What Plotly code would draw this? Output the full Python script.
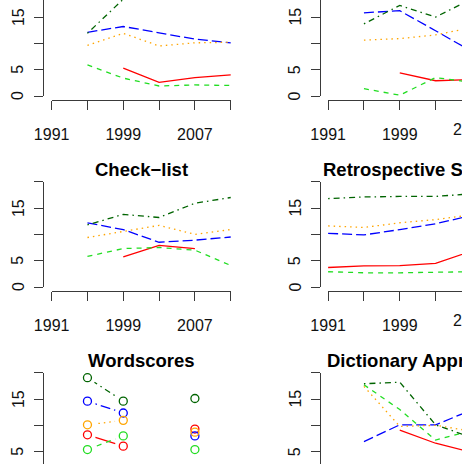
import plotly.graph_objects as go

# ---------------- data ----------------
years = [1991, 1995, 1999, 2003, 2007, 2011]
series_names = ["Red", "Green", "Blue", "Orange", "Dark green"]
colors = ["#FF0000", "#22DD22", "#0000FF", "#FFA500", "#006400"]
dashes = ["solid", "5px,5px", "10px,4px", "1.5px,4px", "1.5px,4px,6px,4px"]

xtick_vals = [1991, 1995, 1999, 2003, 2007, 2011]
xtick_text = ["1991", "", "1999", "", "2007", ""]
ytick_vals = [0, 5, 10, 15, 20]
ytick_text = ["0", "5", "", "15", ""]

panel_titles = ["", "", "Check\u2212list", "Retrospective Survey", "Wordscores", "Dictionary Approach"]

# panel 1 (top left)
p1_red = [None, None, 5.3, 2.6, 3.5, 4.0]
p1_green = [None, 5.9, 3.4, 1.9, 2.1, 2.0]
p1_blue = [None, 12.1, 13.2, 12.0, 10.8, 10.1]
p1_orange = [None, 9.6, 11.9, 9.5, 10.1, 10.2]
p1_darkgreen = [None, 11.9, 18.4, None, None, None]

# panel 2 (top right)
p2_red = [None, None, 4.4, 2.9, 3.1, None]
p2_green = [None, 1.4, 0.15, 3.5, 2.6, None]
p2_blue = [None, 15.8, 16.2, 12.4, 8.5, None]
p2_orange = [None, 10.6, 10.9, 11.6, 13.0, None]
p2_darkgreen = [None, 13.7, 17.2, 15.0, 18.4, None]

# Check-list
p3_red = [None, None, 5.7, 7.9, 7.3, None]
p3_green = [None, 5.8, 7.3, 7.5, 7.0, 4.1]
p3_blue = [None, 12.2, 10.9, 8.5, 8.9, 9.5]
p3_orange = [None, 9.4, 10.6, 11.7, 10.0, 10.9]
p3_darkgreen = [None, 11.8, 13.8, 13.2, 15.9, 17.0]

# Retrospective Survey
p4_red = [3.7, 4.0, 4.05, 4.5, 6.8, None]
p4_green = [2.9, 2.7, 2.7, 2.8, 2.9, None]
p4_blue = [10.2, 9.9, 10.9, 12.0, 13.6, None]
p4_orange = [11.6, 11.3, 12.2, 12.8, 13.7, None]
p4_darkgreen = [16.8, 17.1, 17.2, 17.2, 17.7, None]

# Wordscores
p5_red = [None, 8.2, 6.05, None, 9.3, None]
p5_green = [None, 5.4, 8.0, None, 5.4, None]
p5_blue = [None, 14.6, 12.35, None, 8.0, None]
p5_orange = [None, 10.1, 10.95, None, 8.7, None]
p5_darkgreen = [None, 19.05, 14.6, None, 15.1, None]

# Dictionary Approach
p6_red = [None, None, 9.1, 6.6, 4.9, None]
p6_green = [None, 17.7, 13.0, 7.2, 9.0, None]
p6_blue = [None, 6.9, 10.1, 10.1, 12.9, None]
p6_orange = [None, 17.4, 9.8, 10.0, 8.9, None]
p6_darkgreen = [None, 17.9, 18.2, 10.1, 7.7, None]

panels = [
    dict(row=0, col=0, kind="lines", data=[p1_red, p1_green, p1_blue, p1_orange, p1_darkgreen]),
    dict(row=0, col=1, kind="lines", data=[p2_red, p2_green, p2_blue, p2_orange, p2_darkgreen]),
    dict(row=1, col=0, kind="lines", data=[p3_red, p3_green, p3_blue, p3_orange, p3_darkgreen]),
    dict(row=1, col=1, kind="lines", data=[p4_red, p4_green, p4_blue, p4_orange, p4_darkgreen]),
    dict(row=2, col=0, kind="b", data=[p5_red, p5_green, p5_blue, p5_orange, p5_darkgreen]),
    dict(row=2, col=1, kind="lines", data=[p6_red, p6_green, p6_blue, p6_orange, p6_darkgreen]),
]

# ---------------- geometry (layout only) ----------------
W, H = 462, 464
XPY = 9.317            # px per year
X1991 = [35.0, 322.7]  # px position of 1991 tick per column
YPU = 5.265            # px per unit
Y0 = [96.0, 287.0, 478.0]  # px position of value 0 per row
X_LO, X_HI = 1990.2, 2011.8
Y_LO, Y_HI = -0.8, 20.8
YLAB_OFF = 27.5        # distance of y tick-label centre from the y axis line
FONT = "Liberation Sans, Arial, sans-serif"
AXCOL = "#3a3a3a"


def xpx(col, yr):
    return X1991[col] + (yr - 1991) * XPY


def ypx(row, v):
    return Y0[row] - v * YPU


def inv_x(col, px):
    return 1991 + (px - X1991[col]) / XPY


def inv_y(row, py):
    return (Y0[row] - py) / YPU


def key(letter, i):
    return f"{letter}axis" if i == 1 else f"{letter}axis{i}"


def ref(letter, i):
    return letter if i == 1 else f"{letter}{i}"


fig = go.Figure()
layout = {}
annotations = []
hidden = dict(visible=False, showgrid=False, zeroline=False, fixedrange=True)

axis_traces = []
mask_traces = []
circle_traces = []


def empty_trace(i):
    return go.Scatter(x=[None], y=[None], mode="markers", showlegend=False,
                      hoverinfo="skip", xaxis=ref("x", i), yaxis=ref("y", i))


for p, pan in enumerate(panels):
    row, col = pan["row"], pan["col"]
    left = max(0.0, xpx(col, X_LO))
    right = min(W, xpx(col, X_HI))
    top = max(0.0, ypx(row, Y_HI))
    bottom = min(H, ypx(row, Y_LO))
    xdom = [left / W, right / W]
    ydom = [1 - bottom / H, 1 - top / H]
    xr = [inv_x(col, left), inv_x(col, right)]
    yr = [inv_y(row, bottom), inv_y(row, top)]

    i_data = 3 * p + 1
    i_xax = 3 * p + 2
    i_yax = 3 * p + 3

    # data subplot
    layout[key("x", i_data)] = dict(hidden, domain=xdom, range=xr, anchor=ref("y", i_data))
    layout[key("y", i_data)] = dict(hidden, domain=ydom, range=yr, anchor=ref("x", i_data))

    # x-axis subplot (axis line from 1991 to 2011 at plot-region bottom)
    if ypx(row, Y_LO) < H:
        ax_l = xpx(col, 1991)
        ax_r = min(W, xpx(col, 2011))
        layout[key("x", i_xax)] = dict(
            domain=[ax_l / W, ax_r / W], range=[1991, inv_x(col, ax_r)],
            anchor=ref("y", i_xax), showline=True, linecolor=AXCOL, linewidth=1.3,
            ticks="outside", ticklen=9, tickwidth=1.3, tickcolor=AXCOL,
            tickmode="array", tickvals=xtick_vals, ticktext=xtick_text,
            tickfont=dict(family=FONT, size=16, color="#111"),
            ticklabelstandoff=10, ticklabeloverflow="allow",
            showgrid=False, zeroline=False, fixedrange=True)
        layout[key("y", i_xax)] = dict(hidden, domain=ydom, range=[0, 1], anchor=ref("x", i_xax))
        axis_traces.append(empty_trace(i_xax))
        # partially visible tick label beyond the window edge
        if xpx(col, 2011) > W:
            annotations.append(dict(
                x=xpx(col, 2007) / W, y=1 - (ypx(row, Y_LO) + 19) / H,
                xref="paper", yref="paper", text="2007", showarrow=False,
                xanchor="center", yanchor="top",
                font=dict(family=FONT, size=16, color="#111")))

    # y-axis subplot (axis line from 0 to 20 at plot-region left)
    ay_b = min(H, ypx(row, 0))
    ay_t = max(0.0, ypx(row, 20))
    layout[key("y", i_yax)] = dict(
        domain=[1 - ay_b / H, 1 - ay_t / H], range=[inv_y(row, ay_b), inv_y(row, ay_t)],
        anchor=ref("x", i_yax), showline=True, linecolor=AXCOL, linewidth=1.3,
        ticks="outside", ticklen=9, tickwidth=1.3, tickcolor=AXCOL,
        tickmode="array", tickvals=ytick_vals, showticklabels=False,
        showgrid=False, zeroline=False, fixedrange=True)
    layout[key("x", i_yax)] = dict(hidden, domain=xdom, range=[0, 1], anchor=ref("y", i_yax))
    axis_traces.append(empty_trace(i_yax))
    # y tick labels (rotated, parallel to the axis as in R)
    for v, txt in zip(ytick_vals, ytick_text):
        if txt and 0 <= ypx(row, v) <= H + 8:
            annotations.append(dict(
                x=(xpx(col, X_LO) - YLAB_OFF) / W, y=1 - ypx(row, v) / H,
                xref="paper", yref="paper", text=txt, textangle=-90, showarrow=False,
                xanchor="center", yanchor="middle",
                font=dict(family=FONT, size=16, color="#111")))

    # title
    if panel_titles[p]:
        annotations.append(dict(
            x=(xpx(col, X_LO) + xpx(col, X_HI)) / 2 / W,
            y=1 - (ypx(row, Y_HI) - 7.5) / H,
            xref="paper", yref="paper", text="<b>" + panel_titles[p] + "</b>",
            showarrow=False, xanchor="center", yanchor="middle",
            font=dict(family=FONT, size=18.5, color="#000")))

    # traces
    for s, vals in enumerate(pan["data"]):
        fig.add_trace(go.Scatter(
            x=years, y=vals, mode="lines", name=series_names[s],
            line=dict(color=colors[s], width=1.3, dash=dashes[s]),
            connectgaps=False, showlegend=False, hoverinfo="skip",
            xaxis=ref("x", i_data), yaxis=ref("y", i_data)))
        if pan["kind"] == "b":
            mask_traces.append(go.Scatter(
                x=years, y=vals, mode="markers", showlegend=False, hoverinfo="skip",
                marker=dict(size=17, color="white", line=dict(width=0)), cliponaxis=False,
                xaxis=ref("x", i_data), yaxis=ref("y", i_data)))
            circle_traces.append(go.Scatter(
                x=years, y=vals, mode="markers", name=series_names[s], showlegend=False,
                hoverinfo="skip", cliponaxis=False,
                marker=dict(symbol="circle-open", size=8, color=colors[s], line=dict(width=1.3)),
                xaxis=ref("x", i_data), yaxis=ref("y", i_data)))

for t in mask_traces + circle_traces + axis_traces:
    fig.add_trace(t)

fig.update_layout(
    width=W, height=H, margin=dict(l=0, r=0, t=0, b=0),
    paper_bgcolor="white", plot_bgcolor="rgba(0,0,0,0)",
    showlegend=False, annotations=annotations,
    font=dict(family=FONT), **layout)

fig.write_html("out.html")
